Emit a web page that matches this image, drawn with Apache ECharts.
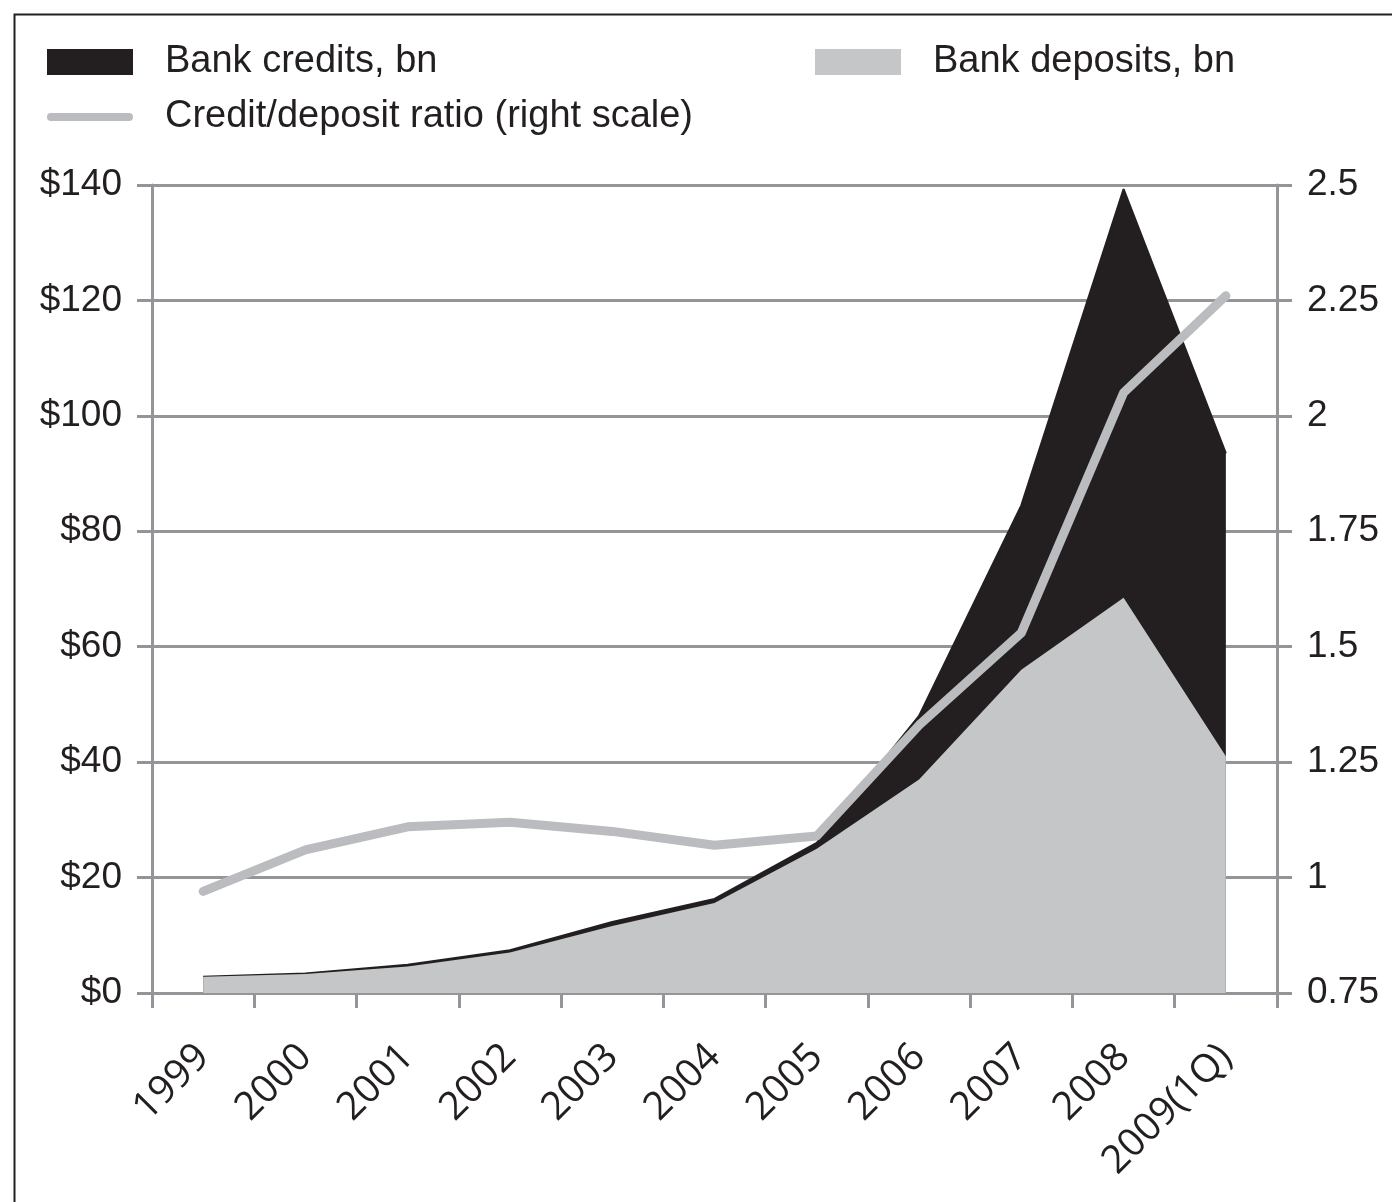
<!DOCTYPE html>
<html>
<head>
<meta charset="utf-8">
<script src="https://cdn.jsdelivr.net/npm/echarts@6/dist/echarts.min.js"></script>
<style>
  html, body { margin: 0; padding: 0; background: #fff; }
  #chart { width: 1392px; height: 1202px; }
</style>
</head>
<body>
<div id="chart"></div>
<script>
// values
const years = ["1999", "2000", "2001", "2002", "2003", "2004", "2005", "2006", "2007", "2008", "2009(1Q)"];
const bankCredits = [2.8, 3.4, 4.9, 7.4, 12.3, 16.3, 26, 48, 84.5, 139.3, 93.5];
const bankDeposits = [2.8, 3.3, 4.6, 7.0, 11.6, 15.6, 25, 37, 56, 68.5, 41];
const creditDepositRatio = [0.97, 1.06, 1.11, 1.12, 1.1, 1.07, 1.09, 1.33, 1.53, 2.05, 2.26];

const leftTicks = { min: 0, max: 140, interval: 20 };
const rightTicks = { min: 0.75, max: 2.5, interval: 0.25 };

const black = "#231f20";
const grey = "#c5c6c8";
const ratioGrey = "#bbbcbf";
const axisGrey = "#939598";

const chart = echarts.init(document.getElementById("chart"));

const legendText = { fontFamily: "Liberation Sans", fontSize: 38, color: black, padding: [0, 0, 0, 27] };

const option = {
  animation: false,
  backgroundColor: "#fff",
  graphic: [
    {
      type: "rect",
      left: 12,
      top: 12,
      shape: { width: 1400, height: 1210 },
      style: { fill: "none", stroke: black, lineWidth: 2 },
      silent: true,
    },
  ],
  legend: [
    {
      left: 47,
      top: 43,
      padding: 0,
      orient: "vertical",
      itemWidth: 86,
      itemHeight: 26,
      itemGap: 17,
      textStyle: legendText,
      data: [
        { name: "Bank credits, bn", icon: "rect" },
        {
          name: "Credit/deposit ratio (right scale)",
          icon: "path://M4,0 L82,0 A4,4 0 0 1 82,8 L4,8 A4,4 0 0 1 4,0 Z",
          itemStyle: { color: ratioGrey },
        },
      ],
    },
    {
      left: 815,
      top: 43,
      padding: 0,
      itemWidth: 86,
      itemHeight: 26,
      textStyle: legendText,
      data: [{ name: "Bank deposits, bn", icon: "rect" }],
    },
  ],
  grid: {
    left: 152,
    right: 115,
    top: 185,
    bottom: 209,
  },
  xAxis: {
    type: "category",
    data: years,
    boundaryGap: true,
    axisLine: { lineStyle: { color: axisGrey, width: 3 } },
    axisTick: { show: true, interval: 0, length: 15, lineStyle: { color: axisGrey, width: 3 } },
    axisLabel: {
      interval: 0,
      rotate: 45,
      margin: 58,
      fontFamily: "Open Sans",
      fontSize: 39,
      color: black,
    },
  },
  yAxis: [
    {
      type: "value",
      ...leftTicks,
      axisLine: { show: true, lineStyle: { color: axisGrey, width: 3 } },
      axisTick: { show: true, length: 15, lineStyle: { color: axisGrey, width: 3 } },
      splitLine: { show: true, lineStyle: { color: axisGrey, width: 3 } },
      axisLabel: {
        margin: 30,
        fontFamily: "Liberation Sans",
        fontSize: 37,
        color: black,
        formatter: (v) => "$" + v,
      },
    },
    {
      type: "value",
      position: "right",
      ...rightTicks,
      axisLine: { show: true, lineStyle: { color: axisGrey, width: 3 } },
      axisTick: { show: true, length: 15, lineStyle: { color: axisGrey, width: 3 } },
      splitLine: { show: false },
      axisLabel: {
        margin: 30,
        fontFamily: "Liberation Sans",
        fontSize: 37,
        color: black,
      },
    },
  ],
  series: [
    {
      name: "Bank credits, bn",
      type: "line",
      data: bankCredits,
      yAxisIndex: 0,
      symbol: "none",
      itemStyle: { color: black },
      lineStyle: { color: black, width: 2 },
      areaStyle: { color: black, opacity: 1 },
      z: 2,
    },
    {
      name: "Bank deposits, bn",
      type: "line",
      data: bankDeposits,
      yAxisIndex: 0,
      symbol: "none",
      itemStyle: { color: grey },
      lineStyle: { width: 0 },
      areaStyle: { color: grey, opacity: 1 },
      z: 3,
    },
    {
      name: "Credit/deposit ratio (right scale)",
      type: "line",
      data: creditDepositRatio,
      yAxisIndex: 1,
      symbol: "none",
      itemStyle: { color: ratioGrey },
      lineStyle: { color: ratioGrey, width: 9, cap: "round", join: "round" },
      z: 4,
    },
  ],
};

chart.setOption(option);
</script>
</body>
</html>
